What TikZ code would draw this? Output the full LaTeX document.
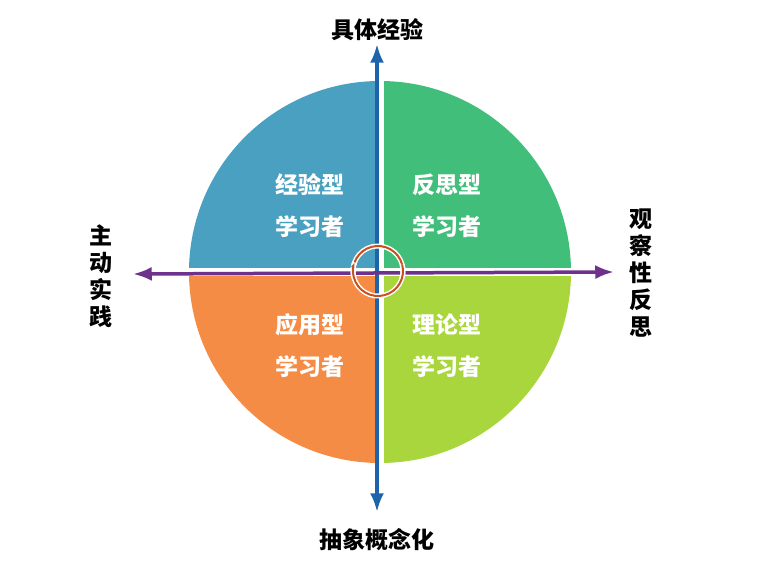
\documentclass[tikz,border=0pt]{standalone}
\usepackage{fontspec}
\newfontfamily\cjk{Noto Sans CJK SC}
\usetikzlibrary{arrows.meta}
\tikzset{>=Latex}

\begin{document}
\begin{tikzpicture}[x=1pt,y=-1pt,
quadtext/.style={font=\cjk\bfseries\fontsize{23}{42}\selectfont, text=white, align=center},
axislabel/.style={font=\cjk\bfseries\fontsize{23}{27}\selectfont, align=center},
]
\useasboundingbox (0,0) rectangle (763,564);
%Quadrants
\fill[color={rgb,255:red,74;green,160;blue,192}] (380,272) -- (189,272) arc[start angle=180,end angle=90,radius=191pt] -- cycle;
\fill[color={rgb,255:red,64;green,190;blue,122}] (380,272) -- (380,81) arc[start angle=90,end angle=0,radius=191pt] -- cycle;
\fill[color={rgb,255:red,245;green,140;blue,70}] (380,272) -- (189,272) arc[start angle=180,end angle=270,radius=191pt] -- cycle;
\fill[color={rgb,255:red,168;green,214;blue,60}] (380,272) -- (380,463) arc[start angle=270,end angle=360,radius=191pt] -- cycle;
\draw[white,line width=8pt] (380,75) -- (380,470) (185,272) -- (575,272);

%Nodes
\node[quadtext](Experience) at (310,206){经验型\\学习者};
\node[quadtext](Reflection) at (447,206){反思型\\学习者};
\node[quadtext](Application) at (310,346){应用型\\学习者};
\node[quadtext](Theory) at (447,346){理论型\\学习者};
\node[axislabel](Concrete) at (377,30){具体经验};
\node[axislabel](Abstract) at (377,540){抽象概念化};
\node[axislabel](Active) at (101,276){主\\动\\实\\践};
\node[axislabel](Observe) at (641,273){观\\察\\性\\反\\思};
\coordinate (Top) at (377,44);
\coordinate (Bottom) at (377,512);
\coordinate (Left) at (133,274);
\coordinate (Right) at (614,272);

%Lines
\draw[<->,line width=3.5pt,color={rgb,255:red,30;green,100;blue,170}] (Bottom) -- (Top);
\draw[<->,line width=3.5pt,color={rgb,255:red,110;green,50;blue,140}] (Left) -- (Right);

%Cycle
\foreach \s/\e in {195/-20,15/-200}{
  \draw[white,line width=5pt] (378,271) ++(\s:25pt) arc[start angle=\s,end angle=\e,radius=25pt];
  \draw[-{Latex[length=5pt]},line width=2pt,color={rgb,255:red,200;green,80;blue,30}] (378,271) ++(\s:25pt) arc[start angle=\s,end angle=\e,radius=25pt];
}
\end{tikzpicture}
\end{document}
